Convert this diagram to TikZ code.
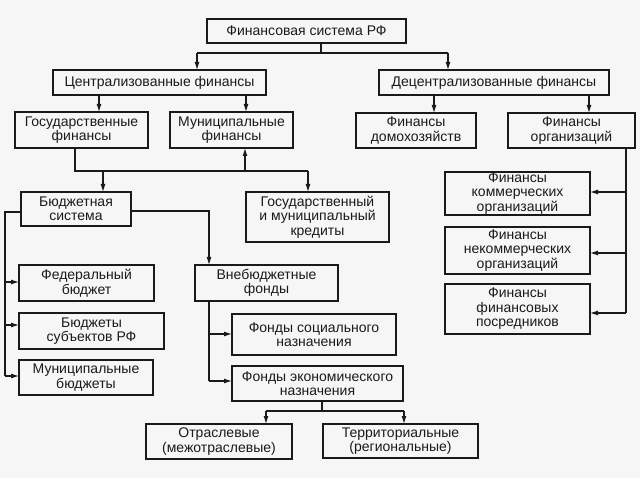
\documentclass[tikz,border=0pt]{standalone}
\usepackage{fontspec}
\setmainfont{Liberation Sans}
\usetikzlibrary{arrows.meta}
\definecolor{ink}{HTML}{1A1A1A}
\definecolor{paper}{HTML}{F6F6F6}
\tikzset{
  box/.style={draw=ink, line width=1.2pt, inner sep=0pt, align=center, text=ink,
    font=\fontsize{14pt}{14.5pt}\selectfont},
  conn/.style={draw=ink, line width=1.1pt},
  arr/.style={conn, -{Latex[length=8pt,width=5pt]}},
}
\newcommand{\bx}[6]{% name, x1, y1, x2, y2, text
  \node[box, minimum width=#4pt-#2pt, minimum height=#5pt-#3pt] (#1) at ({(#2+#4)/2},{(#3+#5)/2}) {#6};}
\begin{document}
\begin{tikzpicture}[x=1pt,y=-1pt]
\fill[paper] (0,0) rectangle (640,478);
\useasboundingbox (0,0) rectangle (640,478);

\bx{top}{207}{19}{406}{43}{Финансовая система РФ}
\bx{cen}{53}{70}{266}{95}{Централизованные финансы}
\bx{dec}{379}{70}{609}{95}{Децентрализованные финансы}
\bx{gos}{15}{112}{148}{148}{Государственные\\финансы}
\bx{mun}{170}{112}{293}{148}{Муниципальные\\финансы}
\bx{dom}{356}{113}{476}{148}{Финансы\\домохозяйств}
\bx{org}{508}{113}{635}{148}{Финансы\\организаций}
\bx{bud}{21}{192}{131}{226}{Бюджетная\\система}
\bx{cred}{246}{192}{389}{242}{Государственный\\и муниципальный\\кредиты}
\bx{fed}{19}{265}{154}{301}{Федеральный\\бюджет}
\bx{sub}{19}{313}{164}{349}{Бюджеты\\субъектов РФ}
\bx{mbud}{19}{360}{153}{395}{Муниципальные\\бюджеты}
\bx{vne}{195}{265}{338}{301}{Внебюджетные\\фонды}
\bx{soc}{232}{314}{396}{355}{Фонды социального\\назначения}
\bx{eco}{232}{366}{403}{401}{Фонды экономического\\назначения}
\bx{otr}{146}{424}{292}{459}{Отраслевые\\(межотраслевые)}
\bx{ter}{323}{424}{478}{458}{Территориальные\\(региональные)}
\bx{kom}{445}{172}{590}{215}{Финансы\\коммерческих\\организаций}
\bx{nek}{445}{227}{590}{274}{Финансы\\некоммерческих\\организаций}
\bx{pos}{445}{284}{590}{334}{Финансы\\финансовых\\посредников}

% junction coordinates
\coordinate (t0) at (321,43);
\coordinate (t1) at (321,53);
\coordinate (tL) at (197,53);
\coordinate (tR) at (448,53);
\coordinate (cenA) at (197,70);
\coordinate (decA) at (448,70);
\draw[conn] (t0) -- (t1);
\draw[conn] (tL) -- (tR);
\draw[arr] (tL) -- (cenA);
\draw[arr] (tR) -- (decA);

\coordinate (c1) at (99,95);  \coordinate (g1) at (99,112);
\coordinate (c2) at (246,95); \coordinate (m1) at (246,112);
\draw[arr] (c1) -- (g1);
\draw[arr] (c2) -- (m1);
\coordinate (d1) at (434,95); \coordinate (h1) at (434,113);
\coordinate (d2) at (589,95); \coordinate (o1) at (589,113);
\draw[arr] (d1) -- (h1);
\draw[arr] (d2) -- (o1);

% state finances branch
\coordinate (g2) at (75,148);
\coordinate (g3) at (75,171);
\coordinate (g4) at (308,171);
\coordinate (crA) at (308,192);
\coordinate (bj) at (103,171);
\coordinate (budA) at (103,192);
\coordinate (mj) at (245,171);
\coordinate (munB) at (245,148);
\draw[conn] (g2) -- (g3) -- (g4);
\draw[arr] (g4) -- (crA);
\draw[arr] (bj) -- (budA);
\draw[arr] (mj) -- (munB);

% budget system
\coordinate (b1) at (21,212);
\coordinate (b2) at (5,212);
\coordinate (b3) at (5,376);
\coordinate (bf) at (5,282);   \coordinate (fedA) at (19,282);
\coordinate (bs) at (5,325);   \coordinate (subA) at (19,325);
\coordinate (mbA) at (19,376);
\draw[conn] (b1) -- (b2) -- (b3);
\draw[arr] (bf) -- (fedA);
\draw[arr] (bs) -- (subA);
\draw[arr] (b3) -- (mbA);

\coordinate (b4) at (131,211);
\coordinate (b5) at (209,211);
\coordinate (vneA) at (209,265);
\draw[arr] (b4) -- (b5) -- (vneA);

% extra-budget funds
\coordinate (v1) at (209,301);
\coordinate (v2) at (209,381);
\coordinate (vs) at (209,334); \coordinate (socA) at (232,334);
\coordinate (ecoA) at (232,381);
\draw[conn] (v1) -- (v2);
\draw[arr] (vs) -- (socA);
\draw[arr] (v2) -- (ecoA);

\coordinate (e1) at (322,401);
\coordinate (e2) at (322,411);
\coordinate (eL) at (266,411); \coordinate (otrA) at (266,424);
\coordinate (eR) at (404,411); \coordinate (terA) at (404,424);
\draw[conn] (e1) -- (e2);
\draw[conn] (eL) -- (eR);
\draw[arr] (eL) -- (otrA);
\draw[arr] (eR) -- (terA);

% organisations
\coordinate (o2) at (626,148);
\coordinate (o3) at (626,313);
\coordinate (ok) at (626,192); \coordinate (komA) at (590,192);
\coordinate (on) at (626,253); \coordinate (nekA) at (590,253);
\coordinate (posA) at (590,313);
\draw[conn] (o2) -- (o3);
\draw[arr] (ok) -- (komA);
\draw[arr] (on) -- (nekA);
\draw[arr] (o3) -- (posA);
\end{tikzpicture}
\end{document}
